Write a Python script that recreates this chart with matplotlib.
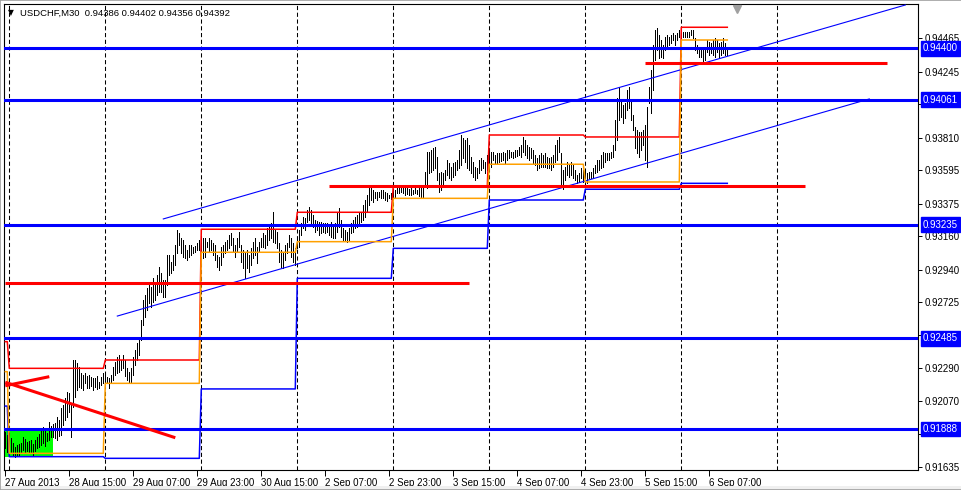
import numpy as np
import matplotlib
matplotlib.use("Agg")
import matplotlib.pyplot as plt
import matplotlib.transforms as mtransforms
from matplotlib.patches import Rectangle

plt.rcParams['font.family'] = ['Liberation Sans', 'DejaVu Sans']

# M30 bars, highs / lows in points (0.00001) above 0.90000, one list per day
hi_27aug = [1868, 1848]
lo_27aug = [1762, 1736]
hi_28aug = [1861, 1828, 1795, 1769, 1782, 1789, 1795, 1835, 1822, 1802, 1808, 1815,
            1789, 1815, 1835, 1855, 1881, 1901, 1881, 1861, 1934, 1907, 1921, 1927,
            1967, 1947, 2026, 2046, 2092, 2132, 2125, 2046, 2343, 2343, 2323, 2297,
            2257, 2244, 2257, 2238, 2244, 2231, 2224, 2224, 2238, 2198, 2231, 2257]
lo_28aug = [1749, 1729, 1709, 1703, 1709, 1716, 1729, 1749, 1736, 1742, 1736, 1736,
            1709, 1742, 1762, 1769, 1782, 1795, 1775, 1808, 1815, 1835, 1835, 1828,
            1815, 1842, 1848, 1914, 1947, 1967, 2000, 1835, 2033, 2099, 2145, 2165,
            2158, 2145, 2191, 2158, 2158, 2172, 2145, 2165, 2152, 2158, 2178, 2191]
hi_29aug = [2244, 2231, 2224, 2244, 2297, 2330, 2363, 2376, 2343, 2376, 2343, 2290,
            2264, 2290, 2363, 2409, 2455, 2488, 2607, 2739, 2772, 2818, 2838, 2825,
            2884, 2851, 2904, 2957, 2917, 2871, 2871, 3036, 3036, 2990, 3036, 3102,
            3201, 3181, 3148, 3135, 3102, 3069, 3102, 3102, 3089, 3095, 3115, 3135]
lo_29aug = [2198, 2191, 2158, 2198, 2211, 2244, 2257, 2264, 2277, 2290, 2238, 2211,
            2198, 2198, 2244, 2310, 2343, 2376, 2475, 2574, 2627, 2673, 2719, 2693,
            2726, 2739, 2772, 2792, 2792, 2759, 2759, 2838, 2904, 2917, 2937, 2970,
            3049, 3102, 3049, 3023, 3016, 3003, 3023, 3036, 3049, 3056, 3069, 3069]
hi_30aug = [3135, 3148, 3148, 3122, 3148, 3135, 3115, 3102, 3036, 3023, 3089, 3102,
            3122, 3135, 3168, 3181, 3148, 3102, 3148, 3188, 3102, 3069, 3049, 3069,
            3036, 3082, 3122, 3148, 3089, 3122, 3148, 3181, 3168, 3214, 3234, 3247,
            3320, 3201, 3188, 3115, 3069, 3056, 3102, 3115, 3168, 3148, 3115, 3082]
lo_30aug = [2990, 3016, 3023, 3089, 3056, 3069, 3036, 3003, 2957, 2937, 2970, 3023,
            3049, 3069, 3082, 3102, 3056, 3023, 3056, 3089, 2990, 2950, 2884, 2950,
            2924, 2970, 3016, 3036, 2983, 3056, 3089, 3089, 3082, 3102, 3135, 3148,
            3122, 3115, 3082, 2990, 2957, 2950, 3003, 3049, 3089, 3023, 2990, 2970]
hi_2sep = [3155, 3201, 3247, 3287, 3280, 3333, 3353, 3333, 3300, 3267, 3260, 3254,
           3254, 3247, 3247, 3247, 3234, 3254, 3234, 3247, 3320, 3346, 3267, 3214,
           3201, 3188, 3214, 3247, 3267, 3287, 3300, 3320, 3313, 3366, 3399, 3432,
           3478, 3485, 3465, 3452, 3452, 3452, 3465, 3465, 3452, 3445, 3432, 3445]
lo_2sep = [3082, 3089, 3168, 3214, 3201, 3254, 3267, 3247, 3221, 3188, 3201, 3168,
           3181, 3188, 3181, 3188, 3168, 3155, 3148, 3148, 3188, 3221, 3155, 3135,
           3135, 3122, 3135, 3181, 3188, 3214, 3221, 3247, 3254, 3267, 3287, 3320,
           3366, 3399, 3386, 3412, 3399, 3419, 3412, 3412, 3399, 3392, 3412, 3406]
hi_3sep = [3452, 3465, 3478, 3478, 3485, 3478, 3478, 3478, 3472, 3478, 3465, 3478,
           3465, 3478, 3478, 3478, 3584, 3716, 3716, 3729, 3742, 3749, 3683, 3577,
           3584, 3577, 3597, 3663, 3643, 3617, 3643, 3650, 3663, 3729, 3828, 3808,
           3795, 3808, 3762, 3683, 3650, 3617, 3610, 3663, 3676, 3663, 3650, 3696]
lo_3sep = [3412, 3419, 3445, 3445, 3452, 3445, 3432, 3439, 3432, 3432, 3439, 3445,
           3439, 3425, 3419, 3412, 3485, 3478, 3577, 3584, 3597, 3610, 3531, 3452,
           3465, 3498, 3531, 3564, 3544, 3531, 3551, 3564, 3597, 3610, 3630, 3676,
           3650, 3610, 3597, 3577, 3551, 3531, 3544, 3577, 3597, 3610, 3577, 3597]
hi_4sep = [3729, 3716, 3716, 3696, 3709, 3709, 3709, 3716, 3709, 3729, 3729, 3716,
           3716, 3729, 3729, 3749, 3762, 3815, 3795, 3762, 3749, 3742, 3729, 3696,
           3676, 3696, 3709, 3696, 3709, 3683, 3676, 3683, 3696, 3762, 3795, 3815,
           3709, 3597, 3617, 3650, 3630, 3650, 3630, 3597, 3564, 3577, 3610, 3597]
lo_4sep = [3610, 3617, 3663, 3643, 3643, 3650, 3656, 3663, 3643, 3663, 3676, 3683,
           3676, 3683, 3689, 3696, 3683, 3716, 3696, 3676, 3663, 3676, 3643, 3630,
           3597, 3610, 3617, 3617, 3617, 3610, 3610, 3597, 3617, 3650, 3663, 3716,
           3498, 3472, 3531, 3564, 3551, 3564, 3544, 3531, 3511, 3518, 3544, 3518]
hi_5sep = [3597, 3577, 3584, 3584, 3610, 3630, 3663, 3663, 3696, 3716, 3709, 3709,
           3709, 3716, 3762, 3927, 4072, 4145, 4059, 4026, 4039, 4125, 4145, 4059,
           3960, 3881, 3861, 3848, 3848, 3861, 3894, 4013, 4145, 4257, 4422, 4521,
           4534, 4488, 4455, 4422, 4475, 4488, 4475, 4488, 4501, 4488, 4501, 4521]
lo_5sep = [3544, 3511, 3544, 3544, 3551, 3577, 3584, 3597, 3610, 3617, 3650, 3663,
           3663, 3676, 3683, 3729, 3795, 3927, 3947, 3907, 3940, 3993, 4006, 3927,
           3861, 3742, 3709, 3683, 3729, 3762, 3663, 3617, 4039, 3973, 4125, 4323,
           4389, 4336, 4343, 4336, 4389, 4402, 4422, 4435, 4455, 4422, 4455, 4475]
hi_6sep = [4521, 4508, 4508, 4508, 4508, 4521, 4521, 4468, 4422, 4402, 4402, 4389,
           4389, 4455, 4442, 4435, 4455, 4468, 4455, 4435, 4442, 4468, 4435, 4402]
lo_6sep = [4468, 4475, 4475, 4475, 4475, 4488, 4468, 4389, 4369, 4343, 4343, 4310,
           4323, 4376, 4356, 4369, 4356, 4343, 4376, 4336, 4356, 4369, 4356, 4356]

day_hi = [hi_27aug, hi_28aug, hi_29aug, hi_30aug, hi_2sep, hi_3sep, hi_4sep, hi_5sep, hi_6sep]
day_lo = [lo_27aug, lo_28aug, lo_29aug, lo_30aug, lo_2sep, lo_3sep, lo_4sep, lo_5sep, lo_6sep]

# previous day high / close / low drawn as steps for each day
prev_high = [0.92464, 0.92288, 0.92343, 0.93206, 0.93318, 0.93491, 0.93828, 0.93815, 0.94539]
prev_close = [0.92266, 0.91727, 0.92189, 0.93054, 0.93124, 0.93410, 0.93635, 0.93518, 0.94455]
prev_low = [0.92039, 0.91705, 0.91694, 0.92152, 0.92882, 0.93080, 0.93399, 0.93470, 0.93509]

levels = [0.94400, 0.94061, 0.93235, 0.92485, 0.91888]
# red horizontal lines: price, from bar, to bar
red_price = [0.94305, 0.93493, 0.92848]
red_from = [320, 162, 0]
red_to = [441, 400, 232]
# red trend lines (bar0, price0, bar1, price1)
red_trends = [(0, 0.92196, 85, 0.91830), (0, 0.92173, 22, 0.92233)]
# blue channel lines
chan_trends = [(79, 0.93274, 450, 0.94686), (56, 0.92633, 432, 0.94066)]
box_bars = (0, 24)
box_prices = (0.91705, 0.91886)

sep_idx = [2, 50, 98, 146, 194, 242, 290, 338, 386]
label_idx = [0, 32, 64, 96, 128, 160, 192, 224, 256, 288, 320, 352]
labels = ["27 Aug 2013", "28 Aug 15:00", "29 Aug 07:00", "29 Aug 23:00", "30 Aug 15:00",
          "2 Sep 07:00", "2 Sep 23:00", "3 Sep 15:00", "4 Sep 07:00", "4 Sep 23:00",
          "5 Sep 15:00", "6 Sep 07:00"]
yticks = [0.94465, 0.94245, 0.94030, 0.93810, 0.93595, 0.93375, 0.93160, 0.92940,
          0.92725, 0.92505, 0.92290, 0.92070, 0.91853, 0.91635]
hidden_ticks = [0.94030, 0.92505, 0.91853]   # covered by the level boxes
shift_idx = 366
title = "USDCHF,M30  0.94386 0.94402 0.94356 0.94392"

highs = 0.9 + np.concatenate(day_hi) / 1e5
lows = 0.9 + np.concatenate(day_lo) / 1e5
n = min(len(highs), len(lows))
highs, lows = highs[:n], lows[:n]
idx = np.arange(n)
day_bars = [len(d) for d in day_hi]

W, H = 962, 490
fig = plt.figure(figsize=(W / 100, H / 100), dpi=100)
fig.patch.set_facecolor("white")
ax = fig.add_axes([4 / W, 20 / H, 914 / W, 466 / H])
ax.set_facecolor("white")

ax.add_patch(Rectangle((box_bars[0], box_prices[0]), box_bars[1] - box_bars[0],
                       box_prices[1] - box_prices[0], facecolor="#00FF00",
                       edgecolor="none", zorder=1))

for s in sep_idx:
    ax.axvline(s, color="black", lw=0.75, ls=(0, (4, 2.5)), zorder=1.5)

ax.vlines(idx, lows, highs, color="black", lw=0.5, antialiased=False, zorder=2)

ax.plot(idx, np.repeat(prev_high, day_bars)[:n], color="#FF0000", lw=1.1, zorder=3)
ax.plot(idx, np.repeat(prev_low, day_bars)[:n], color="#0000FF", lw=1.1, zorder=3)
ax.plot(idx, np.repeat(prev_close, day_bars)[:n], color="#FFA000", lw=1.1, zorder=3.1)

for b0, p0, b1, p1 in chan_trends:
    ax.plot([b0, b1], [p0, p1], color="#0000FF", lw=0.8, zorder=3)

for lv in levels:
    ax.axhline(lv, color="#0000FF", lw=2.2, zorder=4)

for p, a, b in zip(red_price, red_from, red_to):
    ax.plot([a, b], [p, p], color="#FF0000", lw=2.2, zorder=4, solid_capstyle="butt")
for b0, p0, b1, p1 in red_trends:
    ax.plot([b0, b1], [p0, p1], color="#FF0000", lw=2.2, zorder=4, solid_capstyle="butt")

ax.set_xlim(-0.65, 456.35)
ax.set_ylim(0.91617, 0.946926)

ax.yaxis.tick_right()
ax.set_yticks(yticks)
ax.set_yticklabels(["" if v in hidden_ticks else f"{v:.5f}" for v in yticks])
ax.set_xticks(label_idx)
ax.set_xticklabels(labels, ha="left")
ax.tick_params(axis="y", length=3, width=0.7, pad=2, labelsize=7, colors="black")
ax.tick_params(axis="x", length=4, width=0.7, pad=2, labelsize=7, colors="black")
for sp in ax.spines.values():
    sp.set_color("black")
    sp.set_linewidth(0.8)

trans = mtransforms.blended_transform_factory(ax.transAxes, ax.transData)
for lv in levels:
    ax.text(1 + 5 / 914, lv, f"{lv:.5f}", transform=trans, color="white", fontsize=7,
            va="center", ha="left", clip_on=False, zorder=20,
            bbox=dict(boxstyle="square,pad=0.25", fc="#0000FF", ec="#0000FF"))

trans2 = mtransforms.blended_transform_factory(ax.transData, ax.transAxes)
ax.plot([shift_idx], [0.99], marker="v", color="#A0A0A0", markersize=6,
        transform=trans2, clip_on=False, zorder=20)

fig.text(8 / W, 1 - 13 / H, "\u25bc", fontsize=5.5, family="DejaVu Sans", va="center")
fig.text(20 / W, 1 - 13 / H, title, fontsize=6.8, va="center")

fig.patches.append(Rectangle((0, 0), 1, 4 / H, transform=fig.transFigure,
                             facecolor="#F0F0F0", edgecolor="none"))
fig.patches.append(Rectangle((0, 0), 1, 1, transform=fig.transFigure, fill=False,
                             edgecolor="#A0A0A0", lw=1.2))

fig.savefig("out.png", dpi=100, facecolor=fig.get_facecolor())
